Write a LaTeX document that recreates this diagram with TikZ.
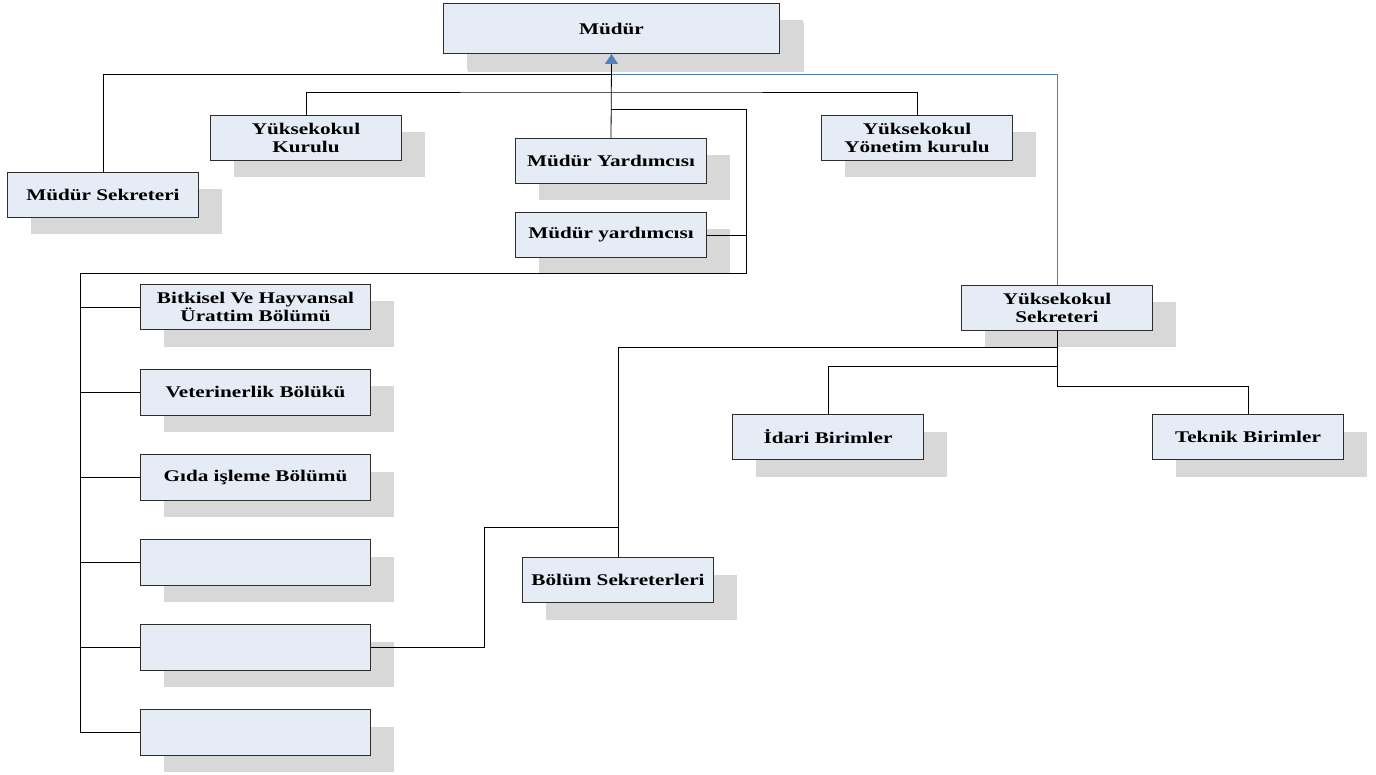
\documentclass[tikz,border=0pt]{standalone}
\usepackage{fontspec}
\setmainfont{Liberation Serif}[FakeStretch=1.3]
\usetikzlibrary{shadows,arrows.meta,calc}
\definecolor{boxfill}{RGB}{230,236,246}
\definecolor{shgray}{RGB}{216,216,216}
\definecolor{boxline}{RGB}{45,45,45}
\definecolor{linkblue}{RGB}{79,129,189}
\tikzset{
  orgbox/.style={draw=boxline, line width=1pt, fill=boxfill, rectangle, anchor=north west,
    inner sep=2pt, align=center, font=\fontsize{16.3}{18}\selectfont\bfseries,
    minimum width=191pt, minimum height=45pt,
    drop shadow={shadow xshift=23pt, shadow yshift=-17pt, fill=shgray, opacity=1, draw=none}},
  widebox/.style={orgbox, minimum width=230pt, minimum height=45.5pt},
  topbox/.style={orgbox, minimum width=336pt, minimum height=50pt,
    drop shadow={shadow xshift=24pt, shadow yshift=-19pt, fill=shgray, opacity=1, draw=none}},
  conn/.style={draw=black, line width=0.8pt},
  blueconn/.style={draw=linkblue, line width=0.8pt},
}
\begin{document}
\begin{tikzpicture}[x=1pt,y=-1pt]
\useasboundingbox (0,0) rectangle (1376,775);
% nodes
\node[topbox] (mudur) at (443,3) {Müdür};
\node[orgbox] (msek) at (7,172) {Müdür Sekreteri};
\node[orgbox] (ykur) at (210,115) {Yüksekokul\\Kurulu};
\node[orgbox] (myard1) at (515,138) {Müdür Yardımcısı};
\node[orgbox] (myard2) at (515,212) {Müdür yardımcısı};
\node[orgbox] (yyon) at (821,115) {Yüksekokul\\Yönetim kurulu};
\node[orgbox] (ysek) at (961,285) {Yüksekokul\\Sekreteri};
\node[widebox] (b1) at (140,284) {Bitkisel Ve Hayvansal\\Ürattim Bölümü};
\node[widebox] (b2) at (140,369) {Veterinerlik Bölükü};
\node[widebox] (b3) at (140,454) {Gıda işleme Bölümü};
\node[widebox] (b4) at (140,539) {};
\node[widebox] (b5) at (140,624) {};
\node[widebox] (b6) at (140,709) {};
\node[orgbox] (bolum) at (522,557) {Bölüm Sekreterleri};
\node[orgbox] (idari) at (732,414) {İdari Birimler};
\node[orgbox] (teknik) at (1152,414) {Teknik Birimler};
% junction coordinates
\coordinate (j1) at (611,74);
\coordinate (j2) at (611,92);
\coordinate (j3) at (611,109);
\coordinate (j4) at (746,273);
\coordinate (lv) at (80,273);
\coordinate (j6) at (484,527);
\coordinate (j7) at (1057,347);
\coordinate (j8) at (1057,386);
\coordinate (j9) at (1057,366);
% connectors
\draw[conn] (msek.north) |- (j1);
\draw[conn] (ykur.north) |- (j2) -| (yyon.north);
\draw[conn] (j3) -| (j4) -- (lv) |- (b6.west);
\draw[conn] (myard2.east) -- (myard2.east -| j4);
\foreach \b in {b1,b2,b3,b4,b5} {\draw[conn] (\b.west) -- (\b.west -| lv);}
\draw[conn] (b5.east) -| (j6) -- (j6 -| bolum.north);
\draw[conn] (bolum.north) |- (j7);
\draw[conn] (ysek.south) -- (j8) -| (teknik.north);
\draw[conn] (idari.north) |- (j9);
\draw[blueconn] (ysek.north) |- (j1);
\draw[conn] (myard1.north) -- ($(mudur.south)+(0,9)$);
\draw[blueconn,-{Triangle[width=13pt,length=10pt]}] ($(mudur.south)+(0,9)$) -- (mudur.south);
\end{tikzpicture}
\end{document}
